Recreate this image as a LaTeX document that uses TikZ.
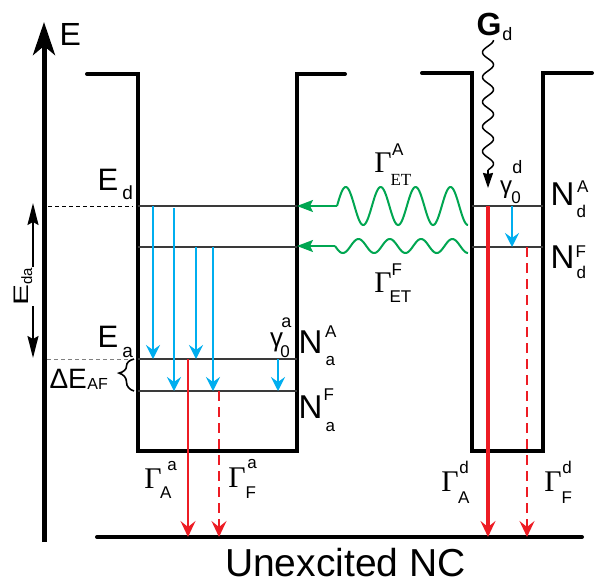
\documentclass[tikz,border=0pt]{standalone}
\usepackage{fontspec}
\usepackage{graphicx}
\setmainfont{Liberation Sans}
\newfontfamily\serifG{Liberation Serif}
\usetikzlibrary{arrows.meta,decorations.pathreplacing}
\definecolor{cblue}{RGB}{0,174,239}
\definecolor{cred}{RGB}{237,28,36}
\definecolor{cgreen}{RGB}{0,166,81}
\definecolor{clevel}{RGB}{58,58,58}
\newcommand\fs[1]{\fontsize{#1}{#1}\selectfont}
% base, sup, sub, sup offset, sup raise, sub offset, sub drop
\newcommand\Lbl[7]{\rlap{#1}\rlap{\kern#4pt\raisebox{#5pt}{#2}}\kern#6pt\raisebox{-#7pt}{#3}}
\begin{document}
\begin{tikzpicture}[x=1pt,y=-1pt,
  wall/.style={line width=4pt, line cap=round, line join=miter},
  level/.style={line width=2pt, clevel},
  bluearr/.style={line width=2pt, cblue, -{Stealth[length=14pt,width=14pt,inset=5pt]}},
  redarr/.style={line width=2pt, cred, -{Stealth[length=16pt,width=15pt,inset=6pt]}},
  greenarr/.style={line width=2pt, cgreen, -{Stealth[length=16pt,width=12pt,inset=3pt]}},
  wave/.style={line width=2pt, cgreen},
  lab/.style={anchor=base west, inner sep=0pt, outer sep=0pt},
]
\fill[white] (0,0) rectangle (594,582);
\useasboundingbox (0,0) rectangle (594,582);

% energy axis
\draw[line width=5pt, -{Stealth[length=33pt,width=22pt,inset=9pt]}] (44,542) -- (44,22);
\node[lab] (E) at (59.5,45) {\fs{32}E};

% wells
\draw[wall] (87,74) -- (138,74) -- (138,451) -- (297,451) -- (297,74) -- (345,74);
\draw[wall] (422,73) -- (472,73) -- (472,451) -- (543,451) -- (543,73) -- (592,73);
% ground line
\draw[wall] (97,537) -- (582,537);

% levels
\draw[level] (138,206) -- (297,206);
\draw[level] (138,247) -- (297,247);
\draw[level] (138,359) -- (297,359);
\draw[level] (138,391) -- (297,391);
\draw[level] (472,206) -- (543,206);
\draw[level] (472,247) -- (543,247);

% dashed reference lines
\draw[line width=1pt, dash pattern=on 4pt off 3pt] (48,206) -- (133,206);
\draw[line width=1pt, gray, dash pattern=on 4pt off 3pt] (47,359) -- (132,359);

% E_da arrows
\draw[line width=1.8pt, -{Stealth[length=22pt,width=11pt,inset=3pt]}] (33,267) -- (33,203);
\draw[line width=1.8pt, -{Stealth[length=22pt,width=11pt,inset=3pt]}] (33,306) -- (33,358);
\node[lab, rotate=90] (Eda) at (28,305.4) {\fs{21}\scalebox{1.5}[1]{E}\raisebox{-4pt}{\fs{15}da}};

% brace
\draw[line width=1.6pt, decorate, decoration={brace, amplitude=15pt, aspect=0.56}] (134,391) -- (134,359);

% blue relaxation arrows
\draw[bluearr] (153,206) -- (153,359);
\draw[bluearr] (174,208) -- (174,391);
\draw[bluearr] (196,247) -- (196,359);
\draw[bluearr] (213,247) -- (213,391);
\draw[bluearr] (278,359) -- (278,391);
\draw[bluearr] (512,206) -- (512,247);

% red emission arrows
\draw[redarr] (188,359) -- (188,537);
\draw[redarr, dash pattern=on 10pt off 6pt] (219,391) -- (219,537);
\draw[redarr, line width=3.5pt] (488,206) -- (488,537);
\draw[redarr, dash pattern=on 10pt off 6pt] (527,247) -- (527,537);

% green energy transfer waves
\draw[wave] plot[domain=337:468, samples=200, smooth] (\x,{206-19*sin((\x-337)/34.93*360)});
\draw[greenarr] (337,206) -- (297,206);
\draw[wave] plot[domain=335:468, samples=200, smooth] (\x,{246+7*sin((\x-335)/31.3*360)});
\draw[greenarr] (335,246) -- (297,246);

% generation wave
\draw[line width=1.5pt] plot[domain=40:170, samples=200, smooth] ({488+5.5*cos((\x-40)/24.76*360)},\x);
\draw[line width=1.5pt, -{Stealth[length=15pt,width=10pt,inset=1pt]}] (488,170) -- (488,188);

% labels
\node[lab] (Ed) at (97.6,190) {\fs{31}\Lbl{E}{}{\fs{19}d}{0}{0}{24.7}{9}};
\node[lab] (Ea) at (97.6,347) {\fs{31}\Lbl{E}{}{\fs{19}a}{0}{0}{24.7}{10}};
\node[lab] (dEAF) at (49.5,388) {\fs{28}ΔE\kern0.5pt\raisebox{-1.5pt}{\fs{16}AF}};

\node[lab] (NaA) at (298.5,353) {\fs{33}\Lbl{N}{\fs{17}A}{\fs{17}a}{26.5}{16}{27}{12}};
\node[lab] (NaF) at (298.5,418) {\fs{33}\Lbl{N}{\fs{17}F}{\fs{17}a}{25}{18}{27}{13}};
\node[lab] (NdA) at (550.5,205) {\fs{33}\Lbl{N}{\fs{17}A}{\fs{17}d}{26.5}{13}{26}{12}};
\node[lab] (NdF) at (550.5,268) {\fs{33}\Lbl{N}{\fs{17}F}{\fs{17}d}{25}{11}{26}{10}};

\node[lab] (g0a) at (270,346.5) {\fs{26}\Lbl{γ}{\fs{18}a}{\fs{17}0}{11.4}{19.5}{10.3}{10.5}};
\node[lab] (g0d) at (500,193) {\fs{24}\Lbl{γ}{\fs{18}d}{\fs{17}0}{12.4}{20}{11.3}{10}};

\node[lab] (GAa) at (144.4,488) {\fs{30}\Lbl{{\serifG Γ}}{\fs{17}a}{\fs{17}A}{23}{18}{15.6}{10}};
\node[lab] (GFa) at (228.4,487) {\fs{30}\Lbl{{\serifG Γ}}{\fs{17}a}{\fs{17}F}{19}{19}{17.2}{11}};
\node[lab] (GAd) at (441.4,491) {\fs{30}\Lbl{{\serifG Γ}}{\fs{17}d}{\fs{17}A}{18}{18}{16.6}{12}};
\node[lab] (GFd) at (544.4,491) {\fs{30}\Lbl{{\serifG Γ}}{\fs{17}d}{\fs{17}F}{18}{18}{17.2}{12}};
\node[lab] (GETA) at (374.4,172) {\fs{30}\Lbl{{\serifG Γ}}{\fs{17}A}{\fs{17}\serifG ET}{17.6}{17}{16.2}{13}};
\node[lab] (GETF) at (374.4,292) {\fs{30}\Lbl{{\serifG Γ}}{\fs{17}F}{\fs{17}ET}{17.2}{17}{15.2}{10}};

\node[lab] (Gd) at (476.6,35) {\fs{32}\Lbl{\bfseries G}{}{\fs{18}d}{0}{0}{25.7}{5}};

\node[lab] (NC) at (225,576) {\fs{39}Unexcited NC};
\end{tikzpicture}
\end{document}
